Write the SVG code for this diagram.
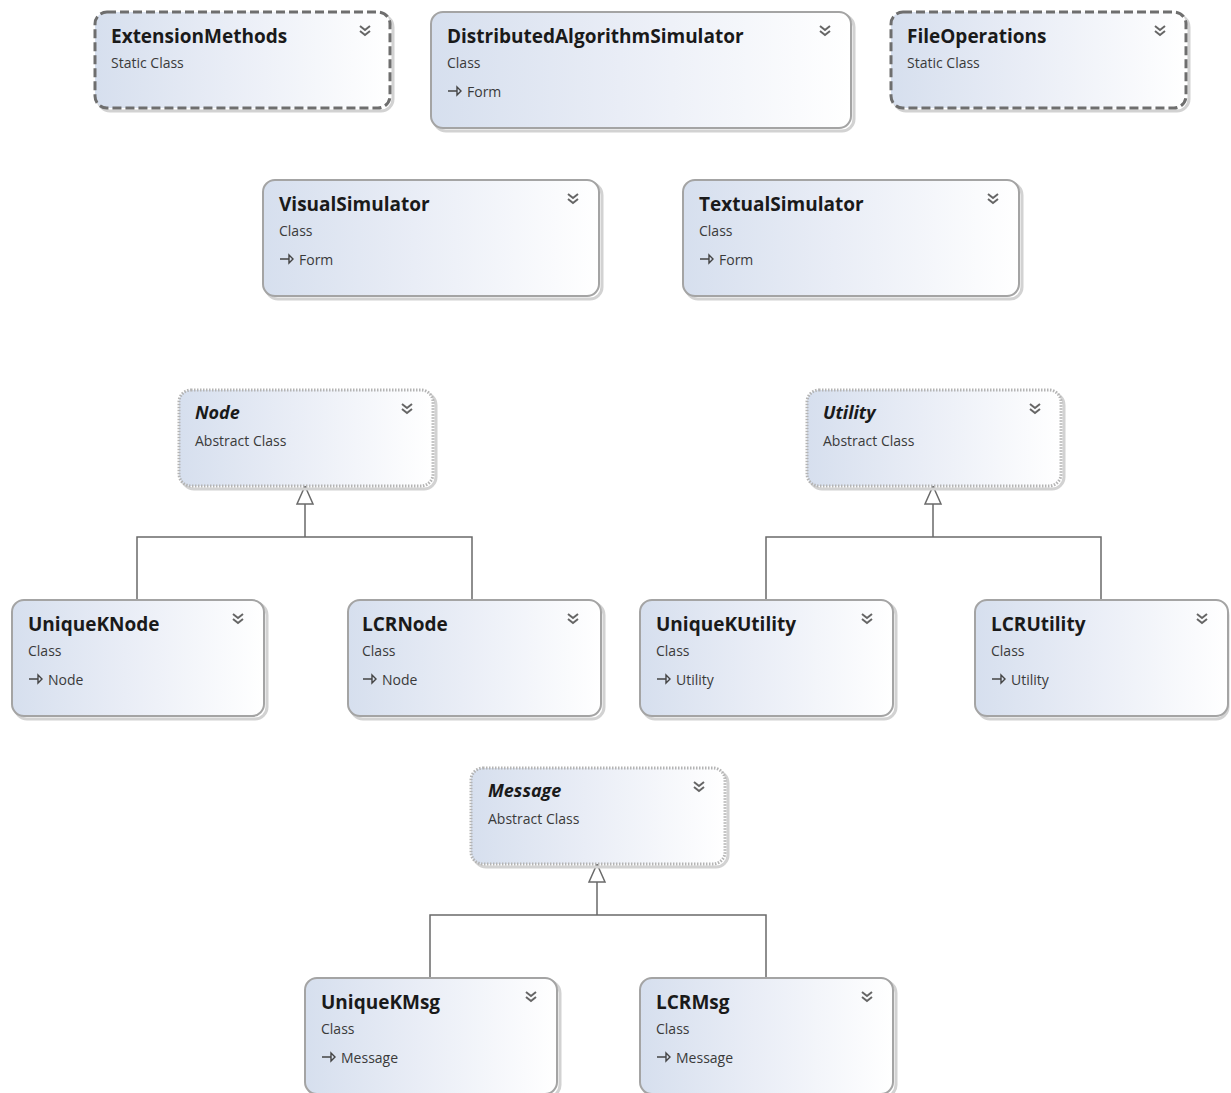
<svg xmlns="http://www.w3.org/2000/svg" width="1231" height="1093" viewBox="0 0 1231 1093">
<defs>
<linearGradient id="g" x1="0" y1="0" x2="1" y2="0">
<stop offset="0" stop-color="#d6dfee"/>
<stop offset="0.45" stop-color="#e9edf6"/>
<stop offset="1" stop-color="#ffffff"/>
</linearGradient>
<style>
.box{fill:url(#g);stroke:#a4a4a4;stroke-width:2}
.sh{fill:none;stroke:#d2d2d2;stroke-width:3}
.static{fill:url(#g);stroke:#6e6e6e;stroke-width:3;stroke-dasharray:9 4}
.abs{fill:url(#g);stroke:#b4b4b4;stroke-width:3;stroke-dasharray:1.5 1.5}
.t{font-family:"Open Sans","DejaVu Sans",sans-serif;font-weight:bold;font-size:19px;fill:#1a1a1a}
.ti{font-family:"Open Sans","DejaVu Sans",sans-serif;font-weight:bold;font-style:italic;font-size:18px;fill:#1a1a1a}
.s{font-family:"Open Sans","DejaVu Sans",sans-serif;font-size:14px;fill:#3a3a3a}
.ch{fill:none;stroke:#666;stroke-width:2}
.ic{fill:none;stroke:#444;stroke-width:1.4}
.ln{fill:none;stroke:#6a6a6a;stroke-width:1.5}
.tri{fill:#ffffff;stroke:#6a6a6a;stroke-width:1.5}
</style>
</defs>

<g id="connectors">
<path class="ln" d="M305,504 V537 M137,600 V537 H472 V600"/>
<polygon class="tri" points="305,486 297,504 313,504"/>
<path class="ln" d="M933,504 V537 M766,600 V537 H1101 V600"/>
<polygon class="tri" points="933,486 925,504 941,504"/>
<path class="ln" d="M597,882 V915 M430,978 V915 H766 V978"/>
<polygon class="tri" points="597,864 589,882 605,882"/>
</g>

<g id="ExtensionMethods">
<rect class="sh" x="98" y="15" width="295" height="96" rx="12"/>
<rect class="static" x="95" y="12" width="295" height="96" rx="12"/>
<text class="t" x="111" y="43">ExtensionMethods</text>
<text class="s" x="111" y="68">Static Class</text>
<path class="ch" d="M360,26 l5,4 l5,-4 M360,31 l5,4 l5,-4"/>
</g>

<g id="DistributedAlgorithmSimulator">
<rect class="sh" x="434" y="15" width="420" height="116" rx="12"/>
<rect class="box" x="431" y="12" width="420" height="116" rx="12"/>
<text class="t" x="447" y="43">DistributedAlgorithmSimulator</text>
<text class="s" x="447" y="68">Class</text>
<path class="ic" d="M448,91 h9 M457,87 l4,4 l-4,4 z"/>
<text class="s" x="467" y="97">Form</text>
<path class="ch" d="M820,26 l5,4 l5,-4 M820,31 l5,4 l5,-4"/>
</g>

<g id="FileOperations">
<rect class="sh" x="894" y="15" width="295" height="96" rx="12"/>
<rect class="static" x="891" y="12" width="295" height="96" rx="12"/>
<text class="t" x="907" y="43">FileOperations</text>
<text class="s" x="907" y="68">Static Class</text>
<path class="ch" d="M1155,26 l5,4 l5,-4 M1155,31 l5,4 l5,-4"/>
</g>

<g id="VisualSimulator">
<rect class="sh" x="266" y="183" width="336" height="116" rx="12"/>
<rect class="box" x="263" y="180" width="336" height="116" rx="12"/>
<text class="t" x="279" y="211">VisualSimulator</text>
<text class="s" x="279" y="236">Class</text>
<path class="ic" d="M280,259 h9 M289,255 l4,4 l-4,4 z"/>
<text class="s" x="299" y="265">Form</text>
<path class="ch" d="M568,194 l5,4 l5,-4 M568,199 l5,4 l5,-4"/>
</g>

<g id="TextualSimulator">
<rect class="sh" x="686" y="183" width="336" height="116" rx="12"/>
<rect class="box" x="683" y="180" width="336" height="116" rx="12"/>
<text class="t" x="699" y="211">TextualSimulator</text>
<text class="s" x="699" y="236">Class</text>
<path class="ic" d="M700,259 h9 M709,255 l4,4 l-4,4 z"/>
<text class="s" x="719" y="265">Form</text>
<path class="ch" d="M988,194 l5,4 l5,-4 M988,199 l5,4 l5,-4"/>
</g>

<g id="Node">
<rect class="sh" x="182" y="393" width="254" height="96" rx="12"/>
<rect class="abs" x="179" y="390" width="254" height="96" rx="12"/>
<text class="ti" x="195" y="419">Node</text>
<text class="s" x="195" y="446">Abstract Class</text>
<path class="ch" d="M402,404 l5,4 l5,-4 M402,409 l5,4 l5,-4"/>
</g>

<g id="Utility">
<rect class="sh" x="810" y="393" width="254" height="96" rx="12"/>
<rect class="abs" x="807" y="390" width="254" height="96" rx="12"/>
<text class="ti" x="823" y="419">Utility</text>
<text class="s" x="823" y="446">Abstract Class</text>
<path class="ch" d="M1030,404 l5,4 l5,-4 M1030,409 l5,4 l5,-4"/>
</g>

<g id="UniqueKNode">
<rect class="sh" x="15" y="603" width="252" height="116" rx="12"/>
<rect class="box" x="12" y="600" width="252" height="116" rx="12"/>
<text class="t" x="28" y="631">UniqueKNode</text>
<text class="s" x="28" y="656">Class</text>
<path class="ic" d="M29,679 h9 M38,675 l4,4 l-4,4 z"/>
<text class="s" x="48" y="685">Node</text>
<path class="ch" d="M233,614 l5,4 l5,-4 M233,619 l5,4 l5,-4"/>
</g>

<g id="LCRNode">
<rect class="sh" x="351" y="603" width="253" height="116" rx="12"/>
<rect class="box" x="348" y="600" width="253" height="116" rx="12"/>
<text class="t" x="362" y="631">LCRNode</text>
<text class="s" x="362" y="656">Class</text>
<path class="ic" d="M363,679 h9 M372,675 l4,4 l-4,4 z"/>
<text class="s" x="382" y="685">Node</text>
<path class="ch" d="M568,614 l5,4 l5,-4 M568,619 l5,4 l5,-4"/>
</g>

<g id="UniqueKUtility">
<rect class="sh" x="643" y="603" width="253" height="116" rx="12"/>
<rect class="box" x="640" y="600" width="253" height="116" rx="12"/>
<text class="t" x="656" y="631">UniqueKUtility</text>
<text class="s" x="656" y="656">Class</text>
<path class="ic" d="M657,679 h9 M666,675 l4,4 l-4,4 z"/>
<text class="s" x="676" y="685">Utility</text>
<path class="ch" d="M862,614 l5,4 l5,-4 M862,619 l5,4 l5,-4"/>
</g>

<g id="LCRUtility">
<rect class="sh" x="978" y="603" width="250" height="116" rx="12"/>
<rect class="box" x="975" y="600" width="253" height="116" rx="12"/>
<text class="t" x="991" y="631">LCRUtility</text>
<text class="s" x="991" y="656">Class</text>
<path class="ic" d="M992,679 h9 M1001,675 l4,4 l-4,4 z"/>
<text class="s" x="1011" y="685">Utility</text>
<path class="ch" d="M1197,614 l5,4 l5,-4 M1197,619 l5,4 l5,-4"/>
</g>

<g id="Message">
<rect class="sh" x="474" y="771" width="254" height="96" rx="12"/>
<rect class="abs" x="471" y="768" width="254" height="96" rx="12"/>
<text class="ti" x="488" y="797">Message</text>
<text class="s" x="488" y="824">Abstract Class</text>
<path class="ch" d="M694,782 l5,4 l5,-4 M694,787 l5,4 l5,-4"/>
</g>

<g id="UniqueKMsg">
<rect class="sh" x="308" y="981" width="252" height="116" rx="12"/>
<rect class="box" x="305" y="978" width="252" height="116" rx="12"/>
<text class="t" x="321" y="1009">UniqueKMsg</text>
<text class="s" x="321" y="1034">Class</text>
<path class="ic" d="M322,1057 h9 M331,1053 l4,4 l-4,4 z"/>
<text class="s" x="341" y="1063">Message</text>
<path class="ch" d="M526,992 l5,4 l5,-4 M526,997 l5,4 l5,-4"/>
</g>

<g id="LCRMsg">
<rect class="sh" x="643" y="981" width="253" height="116" rx="12"/>
<rect class="box" x="640" y="978" width="253" height="116" rx="12"/>
<text class="t" x="656" y="1009">LCRMsg</text>
<text class="s" x="656" y="1034">Class</text>
<path class="ic" d="M657,1057 h9 M666,1053 l4,4 l-4,4 z"/>
<text class="s" x="676" y="1063">Message</text>
<path class="ch" d="M862,992 l5,4 l5,-4 M862,997 l5,4 l5,-4"/>
</g>
</svg>
